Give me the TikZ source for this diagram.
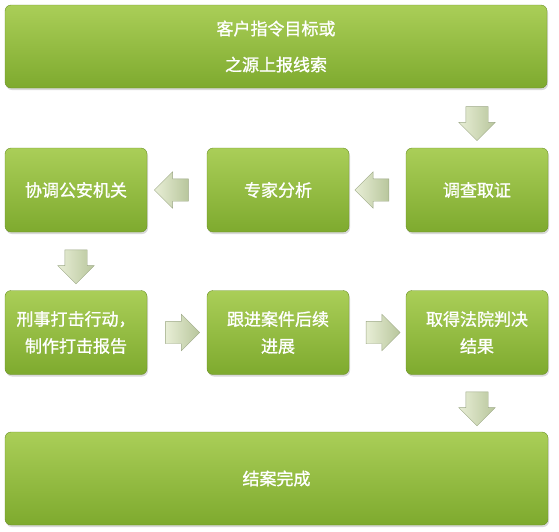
\documentclass[tikz,border=0pt]{standalone}
\usepackage{fontspec}
\newfontfamily\cjk{Noto Sans CJK SC}[FakeBold=1.2]
\usetikzlibrary{calc,positioning,shadows,shapes.arrows}
\definecolor{steptop}{RGB}{170,206,88}
\definecolor{stepbot}{RGB}{126,170,46}
\definecolor{flowpale}{RGB}{232,238,214}
\definecolor{flowdark}{RGB}{184,198,156}

\begin{document}
\begin{tikzpicture}[x=1pt,y=-1pt,font=\cjk\fontsize{17}{27}\selectfont,
    stepbox/.style={rounded corners=6pt,top color=steptop,bottom color=stepbot,draw=stepbot!85!black,text=white,align=center,minimum width=142pt,minimum height=84pt,inner sep=0pt,drop shadow={opacity=0.3,shadow xshift=1pt,shadow yshift=-2pt}},
    flow/.style={single arrow,single arrow head extend=7pt,inner xsep=0pt,inner ysep=11pt,minimum height=34pt,draw=flowdark!85!black,left color=flowpale,right color=flowdark}]
    \useasboundingbox (0,0) rectangle (559,531);
    \node[stepbox,minimum width=542pt,minimum height=83pt] (source) at (276,46.5) {客户指令目标或\\[9pt]之源上报线索};
    \node[stepbox] (police) at (76,190) {协调公安机关};
    \node[stepbox] (expert) at (278,190) {专家分析};
    \node[stepbox] (probe) at (477,190) {调查取证};
    \node[stepbox] (strike) at (76,332.5) {刑事打击行动，\\制作打击报告};
    \node[stepbox] (follow) at (278,332.5) {跟进案件后续\\进展};
    \node[stepbox] (verdict) at (477,332.5) {取得法院判决\\结果};
    \node[stepbox,minimum width=543pt,minimum height=93pt] (closed) at (276.5,478.5) {结案完成};
    \node[flow,rotate=-90] (a1) at ($(source.south -| probe.north)!0.5!(probe.north)$) {};
    \node[flow,rotate=180] (a2) at ($(probe.west)!0.5!(expert.east)$) {};
    \node[flow,rotate=180] (a3) at ($(expert.west)!0.5!(police.east)$) {};
    \node[flow,rotate=-90] (a4) at ($(police.south)!0.5!(strike.north)$) {};
    \node[flow] (a5) at ($(strike.east)!0.5!(follow.west)$) {};
    \node[flow] (a6) at ($(follow.east)!0.5!(verdict.west)$) {};
    \node[flow,rotate=-90] (a7) at ($(verdict.south)!0.5!(closed.north -| verdict.south)$) {};
  \end{tikzpicture}
\end{document}
